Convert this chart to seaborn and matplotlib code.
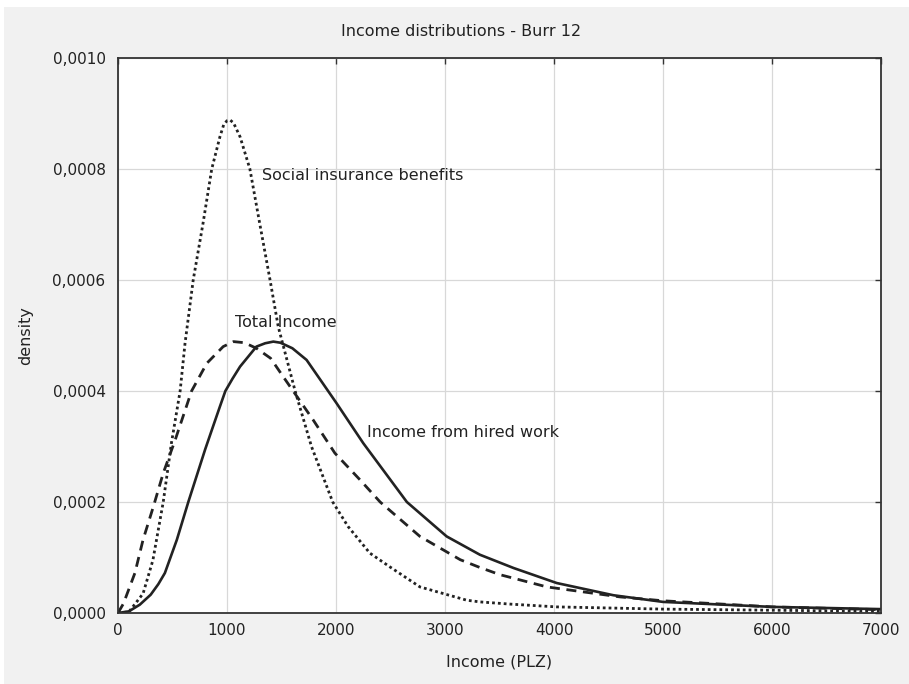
import matplotlib
matplotlib.use("Agg")
import matplotlib.pyplot as plt
import matplotlib.ticker as mticker
from matplotlib.patches import Rectangle
import pandas as pd
import seaborn as sns

# values (density in 1e-4 units)
social_x = [0, 100, 230, 320, 415, 490, 570, 615, 690, 780, 860, 935, 970, 1000, 1030,
            1060, 1120, 1210, 1300, 1395, 1470, 1625, 1775, 1970, 2110, 2310, 2495,
            2770, 3200, 3320, 3600, 4025, 5000, 6000, 7000]
social_y = [0, 0.02, 0.35, 0.95, 2.0, 3.06, 4.0, 4.86, 6.0, 7.02, 8.0, 8.58, 8.80, 8.87,
            8.88, 8.83, 8.58, 8.0, 7.02, 6.0, 5.16, 4.0, 3.0, 2.0, 1.56, 1.08, 0.83,
            0.47, 0.23, 0.20, 0.16, 0.11, 0.07, 0.05, 0.03]

hired_x = [0, 100, 200, 300, 370, 430, 540, 645, 800, 870, 935, 985, 1050, 1120, 1270,
           1350, 1425, 1490, 1600, 1730, 1850, 2005, 2250, 2650, 3015, 3320, 3630,
           4025, 4545, 5000, 6000, 7000]
hired_y = [0, 0.03, 0.15, 0.33, 0.52, 0.72, 1.32, 2.0, 2.95, 3.35, 3.72, 4.0, 4.22, 4.44,
           4.8, 4.86, 4.89, 4.87, 4.77, 4.56, 4.22, 3.78, 3.06, 2.0, 1.38, 1.05, 0.81,
           0.54, 0.32, 0.20, 0.11, 0.07]

total_x = [0, 50, 155, 230, 325, 415, 525, 675, 815, 965, 1060, 1160, 1270, 1400,
           1515, 1790, 1990, 2220, 2405, 2770, 3140, 3320, 3505, 3935, 4605, 5000,
           6000, 7000]
total_y = [0, 0.17, 0.72, 1.32, 1.92, 2.52, 3.12, 4.0, 4.5, 4.8, 4.89, 4.87, 4.77, 4.59,
           4.26, 3.48, 2.88, 2.4, 2.0, 1.38, 0.96, 0.82, 0.69, 0.47, 0.29, 0.22,
           0.11, 0.06]

x_ticks = [0, 1000, 2000, 3000, 4000, 5000, 6000, 7000]
y_ticks = [0, 0.0002, 0.0004, 0.0006, 0.0008, 0.0010]

social = pd.DataFrame({"income": social_x, "density": [v * 1e-4 for v in social_y]})
hired = pd.DataFrame({"income": hired_x, "density": [v * 1e-4 for v in hired_y]})
total = pd.DataFrame({"income": total_x, "density": [v * 1e-4 for v in total_y]})

sns.set_style("white")
plt.rcParams['font.family'] = ['DejaVu Sans']

fig = plt.figure(figsize=(9.09, 6.84), dpi=100, facecolor="white")
fig.patches.append(Rectangle((4 / 909, 0), 1, 1 - 7 / 684, transform=fig.transFigure,
                             facecolor="#f1f1f1", edgecolor="none", zorder=-10))
ax = fig.add_axes([118 / 909, 1 - 613 / 684, (881 - 118) / 909, (613 - 58) / 684])
ax.set_facecolor("white")

line_col = "#222222"
sns.lineplot(data=social, x="income", y="density", ax=ax, color=line_col,
             linewidth=2.0, linestyle=(0, (1, 1.1)), estimator=None)
sns.lineplot(data=total, x="income", y="density", ax=ax, color=line_col,
             linewidth=2.0, linestyle=(0, (3.6, 2.4)), estimator=None)
sns.lineplot(data=hired, x="income", y="density", ax=ax, color=line_col,
             linewidth=1.9, estimator=None)

ax.set_xlim(0, 7000)
ax.set_ylim(0, 0.001)
ax.set_xticks(x_ticks)
ax.set_yticks(y_ticks)
ax.yaxis.set_major_formatter(mticker.FuncFormatter(lambda v, p: f"{v:.4f}".replace(".", ",")))
ax.xaxis.set_major_formatter(mticker.FuncFormatter(lambda v, p: f"{int(v)}"))
ax.grid(True, color="#d8d8d8", linewidth=0.9)
ax.tick_params(direction="in", length=4, width=1, color="#333333", labelsize=11,
               labelcolor="#222222", top=True, right=True, labeltop=False, labelright=False)
ax.tick_params(axis="y", pad=9)
ax.tick_params(axis="x", pad=7)
for s in ax.spines.values():
    s.set_visible(True)
    s.set_color("#333333")
    s.set_linewidth(1.3)

ax.set_xlabel("Income (PLZ)", fontsize=11.5, color="#222222", labelpad=12)
ax.set_ylabel("density", fontsize=11.5, color="#222222", labelpad=14)
fig.text(0.507, 1 - 31 / 684, "Income distributions - Burr 12", ha="center", va="center",
         fontsize=11.5, color="#222222")

ax.text(1321, 0.000789, "Social insurance benefits", ha="left", va="center",
        fontsize=11.5, color="#222222")
ax.text(1073, 0.000524, "Total Income", ha="left", va="center",
        fontsize=11.5, color="#222222")
ax.text(2284, 0.000326, "Income from hired work", ha="left", va="center",
        fontsize=11.5, color="#222222")

fig.savefig("out.png", dpi=100, facecolor=fig.get_facecolor())
